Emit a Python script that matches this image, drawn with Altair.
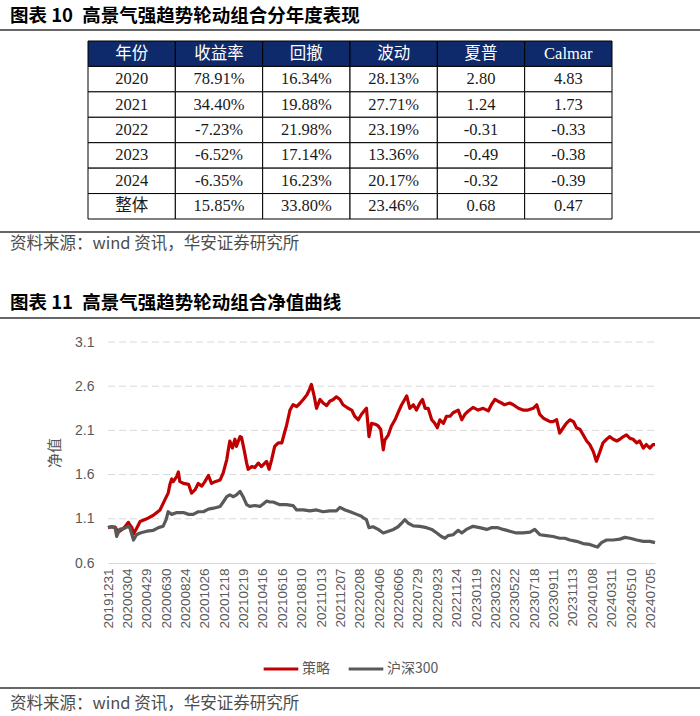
import altair as alt
import pandas as pd

# ---------------- table data ----------------
columns = ["年份", "收益率", "回撤", "波动", "夏普", "Calmar"]
years = ["2020", "2021", "2022", "2023", "2024", "整体"]
ret = ["78.91%", "34.40%", "-7.23%", "-6.52%", "-6.35%", "15.85%"]
drawdown = ["16.34%", "19.88%", "21.98%", "17.14%", "16.23%", "33.80%"]
vol = ["28.13%", "27.71%", "23.19%", "13.36%", "20.17%", "23.46%"]
sharpe = ["2.80", "1.24", "-0.31", "-0.49", "-0.32", "0.68"]
calmar = ["4.83", "1.73", "-0.33", "-0.38", "-0.39", "0.47"]

# ---------------- line data (trading-day index, net value) ----------------
strat_day = [0, 7, 14, 18, 23, 30, 36, 40, 43, 47, 50, 56, 63, 76, 89, 102, 112, 118, 122, 125,
             128, 135, 138, 141, 148, 158, 164, 171, 177, 184, 190, 197, 203, 210, 220, 226, 233, 236, 239, 244,
             249, 252, 259, 262, 267, 272, 275, 282, 288, 295, 301, 311, 316, 321, 327, 334, 341, 347, 350, 357,
             363, 370, 377, 383, 390, 395, 399, 404, 409, 416, 422, 429, 435, 442, 448, 455, 461, 471, 478, 484,
             491, 497, 504, 507, 512, 517, 524, 530, 535, 540, 543, 550, 556, 563, 569, 576, 582, 586, 592, 599,
             605, 612, 617, 622, 628, 635, 641, 646, 651, 658, 664, 671, 677, 687, 694, 700, 707, 716, 726, 736,
             746, 752, 759, 765, 772, 778, 788, 795, 805, 814, 824, 834, 841, 847, 854, 860, 867, 873, 880, 886,
             893, 899, 906, 913, 919, 926, 932, 939, 945, 952, 958, 965, 971, 978, 984, 991, 998, 1004, 1011, 1017,
             1024, 1030, 1037, 1043, 1050, 1056, 1063, 1069, 1073]
strat_val = [1.00, 1.01, 1.005, 0.97, 0.96, 0.99, 1.03, 1.06, 1.03, 1.00, 0.93, 0.99, 1.07, 1.10, 1.14, 1.20, 1.32, 1.39, 1.50, 1.55,
             1.52, 1.58, 1.63, 1.52, 1.50, 1.49, 1.39, 1.43, 1.50, 1.47, 1.52, 1.59, 1.50, 1.52, 1.54, 1.62, 1.77, 1.88, 1.98, 1.90,
             2.00, 1.92, 2.03, 2.02, 1.88, 1.73, 1.66, 1.69, 1.68, 1.73, 1.69, 1.75, 1.66, 1.77, 1.92, 1.96, 1.96, 2.09, 2.15, 2.33,
             2.39, 2.37, 2.41, 2.45, 2.50, 2.56, 2.62, 2.50, 2.35, 2.45, 2.41, 2.38, 2.43, 2.45, 2.48, 2.45, 2.39, 2.35, 2.33, 2.26,
             2.22, 2.28, 2.33, 2.35, 2.03, 2.18, 2.17, 2.15, 2.11, 1.88, 1.99, 2.05, 2.15, 2.22, 2.30, 2.39, 2.45, 2.49, 2.35, 2.39,
             2.33, 2.41, 2.45, 2.35, 2.35, 2.22, 2.18, 2.13, 2.22, 2.18, 2.26, 2.26, 2.30, 2.33, 2.22, 2.28, 2.32, 2.36, 2.33, 2.35,
             2.32, 2.39, 2.45, 2.43, 2.41, 2.39, 2.41, 2.39, 2.35, 2.33, 2.33, 2.35, 2.39, 2.28, 2.24, 2.22, 2.20, 2.20, 2.22, 2.07,
             2.13, 2.18, 2.22, 2.20, 2.13, 2.11, 2.05, 1.98, 1.94, 1.86, 1.75, 1.86, 1.96, 2.00, 2.03, 2.00, 1.98, 2.00, 2.03, 2.05,
             2.01, 2.00, 1.96, 1.98, 1.90, 1.94, 1.90, 1.94, 1.94]

hs_day = [0, 7, 14, 17, 23, 33, 40, 43, 50, 56, 63, 76, 89, 99, 108, 114, 118, 125, 135, 148,
          158, 167, 177, 187, 197, 207, 220, 226, 233, 239, 246, 252, 259, 265, 272, 278, 288, 298, 305, 311,
          318, 324, 337, 350, 363, 370, 383, 396, 409, 422, 435, 448, 455, 465, 475, 488, 497, 501, 507, 512,
          520, 530, 540, 550, 560, 569, 576, 582, 589, 599, 612, 625, 635, 645, 654, 661, 667, 677, 687, 694,
          703, 716, 729, 743, 752, 765, 775, 788, 801, 814, 828, 837, 847, 860, 873, 886, 896, 906, 919, 932,
          945, 955, 960, 968, 978, 991, 1004, 1014, 1024, 1037, 1050, 1063, 1073]
hs_val = [1.00, 1.01, 0.995, 0.90, 0.98, 0.995, 1.015, 0.995, 0.86, 0.92, 0.94, 0.96, 0.97, 1.00, 1.015, 1.09, 1.18, 1.15, 1.17, 1.17,
          1.15, 1.15, 1.18, 1.18, 1.21, 1.22, 1.24, 1.29, 1.35, 1.37, 1.35, 1.37, 1.41, 1.35, 1.26, 1.24, 1.25, 1.24, 1.27, 1.30,
          1.29, 1.29, 1.26, 1.26, 1.25, 1.20, 1.20, 1.19, 1.20, 1.18, 1.19, 1.19, 1.23, 1.20, 1.18, 1.15, 1.13, 1.11, 1.09, 1.00,
          1.01, 0.98, 0.94, 0.96, 0.98, 1.01, 1.05, 1.09, 1.05, 1.02, 1.015, 1.00, 0.98, 0.94, 0.90, 0.88, 0.91, 0.92, 0.97, 0.94,
          0.98, 1.015, 1.00, 0.98, 1.00, 1.00, 0.98, 0.96, 0.94, 0.94, 0.95, 0.98, 0.92, 0.91, 0.90, 0.88, 0.88, 0.86, 0.845, 0.82,
          0.81, 0.79, 0.78, 0.83, 0.86, 0.86, 0.87, 0.89, 0.88, 0.86, 0.845, 0.845, 0.83]

series_names = ["策略", "沪深300"]
series_colors = ["#C00000", "#595959"]

date_labels = ["20191231", "20200304", "20200429", "20200630", "20200824", "20201026", "20201218",
               "20210219", "20210416", "20210616", "20210810", "20211013", "20211207", "20220208",
               "20220406", "20220606", "20220729", "20220923", "20221124", "20230119", "20230322",
               "20230522", "20230718", "20230911", "20231113", "20240108", "20240311", "20240510",
               "20240705"]
days_per_label = 38
last_day = 1073
y_ticks = [0.6, 1.1, 1.6, 2.1, 2.6, 3.1]
grid_ticks = [1.1, 1.6, 2.1, 2.6, 3.1]

title1 = "图表 10\u2002高景气强趋势轮动组合分年度表现"
title2 = "图表 11\u2002高景气强趋势轮动组合净值曲线"
source = "资料来源：wind 资讯，华安证券研究所"

# ---------------- styles ----------------
NAVY = "#0F2A6A"
TXT = "#595959"
CJK = "Noto Sans CJK SC"
SERIF = "Liberation Serif, Noto Sans CJK SC"
SANS = "Liberation Sans, Noto Sans CJK SC"

# ---------------- table ----------------
rows = []
for name in columns:
    rows.append({"row": "header", "col": name, "text": name, "kind": "h"})
for r, yr in enumerate(years):
    vals = [yr, ret[r], drawdown[r], vol[r], sharpe[r], calmar[r]]
    for c, name in enumerate(columns):
        rows.append({"row": yr, "col": name, "text": vals[c], "kind": "b"})
tdf = pd.DataFrame(rows)
row_order = ["header"] + years

xt = alt.X("col:N", sort=columns, axis=None,
           scale=alt.Scale(range=[88, 612], paddingInner=0, paddingOuter=0))
yt = alt.Y("row:N", sort=row_order, axis=None,
           scale=alt.Scale(range=[41, 219], paddingInner=0, paddingOuter=0))

cells = alt.Chart(tdf).mark_rect(stroke="#000000", strokeWidth=1).encode(
    x=xt, y=yt,
    fill=alt.condition("datum.kind == 'h'", alt.value(NAVY), alt.value("#FFFFFF")),
)
cell_text = alt.Chart(tdf).mark_text(font=SERIF, fontSize=16.5, baseline="middle").encode(
    x=xt, y=yt, text="text:N",
    color=alt.condition("datum.kind == 'h'", alt.value("#FFFFFF"), alt.value("#1A1A1A")),
)
table = alt.layer(cells, cell_text)

# ---------------- line chart ----------------
ldf = pd.concat([
    pd.DataFrame({"series": series_names[0], "d": strat_day, "v": strat_val}),
    pd.DataFrame({"series": series_names[1], "d": hs_day, "v": hs_val}),
], ignore_index=True)

label_arr = "[" + ",".join("'%s'" % s for s in date_labels) + "]"
tick_vals = [i * days_per_label for i in range(len(date_labels))]

xs = alt.X("d:Q",
           scale=alt.Scale(domain=[0, last_day], range=[108, 655], nice=False, zero=False),
           axis=alt.Axis(orient="bottom", offset=-153, values=tick_vals,
                         labelExpr=label_arr + "[round(datum.value / %d)]" % days_per_label,
                         labelAngle=270, labelFont=SANS, labelFontSize=13.5, labelColor=TXT,
                         labelPadding=5, labelOverlap=False, labelFlush=False, labelBound=False,
                         ticks=False, grid=False, domainColor="#D9D9D9", domainWidth=1.2, title=None))
ys = alt.Y("v:Q",
           scale=alt.Scale(domain=[0.6, 3.1], range=[563, 342], nice=False, zero=False),
           axis=alt.Axis(orient="left", offset=-108, values=y_ticks, format=".1f",
                         labelFont=SANS, labelFontSize=14, labelColor=TXT, labelPadding=14,
                         ticks=False, domain=False, grid=False,
                         title="净值", titleFont=CJK, titleFontSize=15, titleColor=TXT,
                         titleFontWeight="normal", titlePadding=12))

gdf = pd.DataFrame({"v": grid_ticks})
grid = alt.Chart(gdf).mark_rule(color="#D9D9D9", strokeWidth=1, strokeDash=[7, 4]).encode(
    y=ys, x=alt.value(108), x2=alt.value(655))

lines = alt.Chart(ldf).mark_line(strokeWidth=3.2, strokeJoin="round").encode(
    x=xs, y=ys,
    color=alt.Color("series:N", sort=series_names,
                    scale=alt.Scale(domain=series_names, range=series_colors),
                    legend=alt.Legend(orient="none", legendX=262, legendY=650, direction="horizontal",
                                      title=None, symbolType="stroke", symbolStrokeWidth=3,
                                      symbolSize=1200, labelFont=CJK, labelFontSize=14,
                                      labelColor=TXT, labelOffset=2, columnPadding=12)),
    detail="series:N",
)
line_group = alt.layer(grid, lines)

# ---------------- decorations ----------------
def text_layer(txt, x, y, size, weight="normal", color="#000000", font=CJK):
    return alt.Chart(pd.DataFrame({"t": [txt]})).mark_text(
        align="left", baseline="middle", font=font, fontSize=size, fontWeight=weight, color=color
    ).encode(text="t:N", x=alt.value(x), y=alt.value(y))

def hrule(y, color="#333333", width=1.5):
    return alt.Chart(pd.DataFrame({"k": [0]})).mark_rule(color=color, strokeWidth=width).encode(
        x=alt.value(0), x2=alt.value(700), y=alt.value(y))

decos = [
    text_layer(title1, 10, 16, 18.5, "bold"),
    hrule(30),
    hrule(232),
    text_layer(source, 10, 244, 16.5, color="#4D4D4D"),
    text_layer(title2, 10, 303, 18.5, "bold"),
    hrule(318),
    hrule(688),
    text_layer(source, 10, 704, 16.5, color="#4D4D4D"),
]

chart = alt.layer(table, line_group, *decos).resolve_scale(
    x="independent", y="independent", color="independent"
).properties(
    width=700, height=716,
    autosize=alt.AutoSizeParams(type="none"),
    padding=0,
    background="#FFFFFF",
).configure_view(strokeWidth=0)

chart.save("out.html", embed_options={"renderer": "svg", "actions": False})
